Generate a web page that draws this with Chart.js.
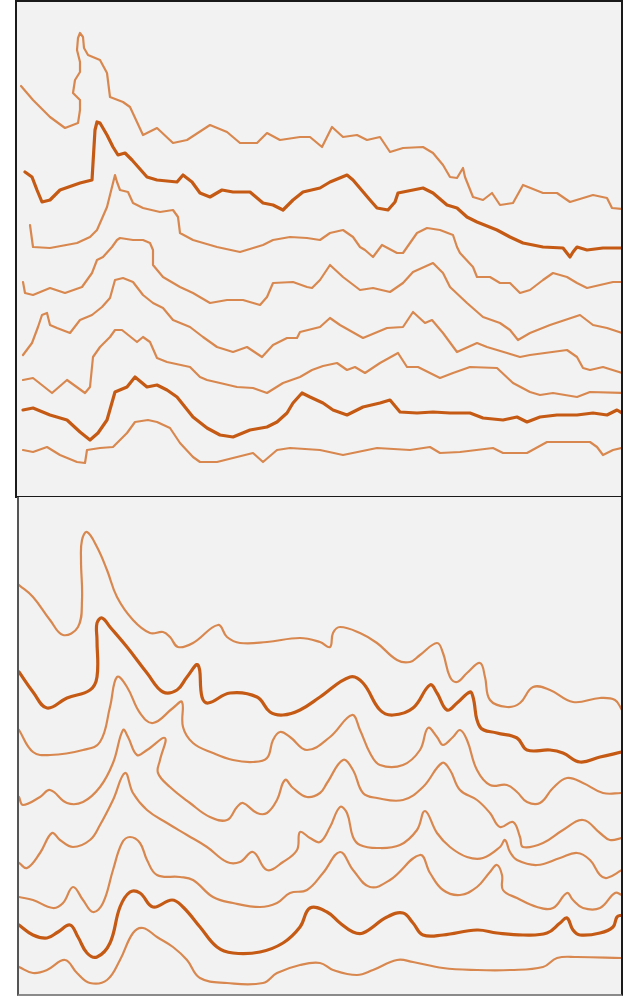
<!DOCTYPE html>
<html>
<head>
<meta charset="utf-8">
<script src="https://cdn.jsdelivr.net/npm/chart.js@4.4.1/dist/chart.umd.min.js"></script>
<style>
    html, body { margin: 0; padding: 0; background: #ffffff; }
    body { width: 631px; height: 996px; position: relative; overflow: hidden; }
    .panel { position: absolute; box-sizing: border-box; background: #f2f2f2; }
    #topPanel { left: 15px; top: 0px; width: 608px; height: 498px; border: 2px solid #1a1a1a; }
    #bottomPanel { left: 17px; top: 497px; width: 606px; height: 499px;
        border-left: 2px solid #555555; border-right: 2px solid #1a1a1a; border-bottom: 2px solid #8a8a8a; }
    .plot { position: relative; width: 100%; height: 100%; }
</style>
</head>
<body>
<div class="panel" id="topPanel"><div class="plot"><canvas id="topChart"></canvas></div></div>
<div class="panel" id="bottomPanel"><div class="plot"><canvas id="bottomChart"></canvas></div></div>
<script>
"use strict";

var topLine1 = [[21,86],[33,100],[50,117],[65,128],[78,123],[80,110],[80,100],[73,93],[75,80],[80,72],[80,62],[77,50],[78,38],[80,33],[83,37],[84,48],[88,55],[100,60],[107,73],[110,97],[123,102],[130,107],[143,135],[157,128],[173,143],[187,140],[210,125],[227,132],[240,143],[257,143],[267,133],[280,140],[300,137],[310,137],[322,147],[332,127],[343,137],[357,135],[367,140],[380,137],[390,152],[403,148],[423,147],[433,153],[443,165],[450,177],[457,178],[463,168],[465,177],[473,197],[483,200],[492,193],[500,205],[513,203],[523,185],[543,193],[557,193],[570,202],[593,195],[607,198],[612,208],[622,209]];
var topLine2 = [[25,172],[32,177],[37,190],[42,202],[50,200],[60,190],[80,183],[92,180],[95,130],[97,122],[100,123],[107,135],[113,147],[118,155],[125,153],[132,160],[147,177],[157,180],[177,182],[183,175],[192,182],[200,193],[210,197],[222,190],[233,192],[250,192],[263,203],[273,205],[283,210],[293,200],[303,192],[320,188],[330,182],[347,175],[353,180],[370,200],[377,208],[388,210],[395,202],[398,193],[413,190],[423,188],[433,193],[447,205],[457,208],[467,217],[477,222],[497,230],[510,237],[523,243],[543,247],[563,248],[570,257],[573,252],[577,247],[587,250],[603,248],[622,248]];
var topLine3 = [[30,225],[33,247],[50,248],[77,243],[90,237],[97,230],[107,207],[112,187],[115,175],[117,182],[120,190],[128,192],[133,203],[143,208],[160,212],[173,210],[178,217],[180,233],[193,240],[217,247],[240,252],[263,245],[273,240],[290,237],[307,238],[320,240],[330,233],[343,230],[353,237],[360,247],[365,250],[373,257],[382,245],[397,253],[403,253],[410,243],[417,233],[427,228],[440,230],[453,235],[457,247],[460,253],[473,267],[477,277],[490,277],[500,283],[510,283],[520,293],[530,290],[543,280],[553,273],[567,277],[577,283],[587,288],[600,285],[613,282],[622,282]];
var topLine4 = [[23,282],[25,293],[33,295],[50,288],[65,293],[82,287],[92,273],[97,260],[103,257],[112,247],[117,240],[120,238],[133,240],[143,240],[150,243],[153,250],[153,265],[163,277],[180,287],[193,293],[210,303],[227,300],[243,300],[260,305],[267,297],[273,283],[293,282],[307,287],[312,288],[320,280],[330,265],[343,277],[360,290],[373,288],[390,292],[403,283],[413,272],[433,263],[443,273],[450,287],[467,303],[483,317],[500,323],[510,330],[518,340],[530,333],[550,325],[580,315],[593,325],[607,328],[622,333]];
var topLine5 = [[23,355],[32,343],[38,327],[42,315],[47,313],[50,325],[57,328],[70,333],[80,320],[92,315],[102,307],[110,298],[115,280],[123,278],[133,282],[143,295],[153,303],[163,308],[173,320],[190,327],[203,337],[217,347],[233,352],[247,347],[262,357],[273,345],[287,338],[297,338],[300,332],[320,327],[330,318],[340,325],[363,338],[387,328],[403,327],[413,312],[425,323],[432,320],[443,333],[457,352],[477,343],[487,347],[507,353],[520,357],[530,355],[567,350],[577,357],[583,368],[590,370],[603,367],[622,373]];
var topLine6 = [[23,380],[33,378],[52,393],[67,380],[85,393],[90,387],[93,357],[100,347],[110,337],[115,330],[122,330],[137,342],[143,337],[150,342],[157,358],[167,362],[190,367],[200,377],[207,380],[220,383],[237,387],[253,388],[267,393],[283,383],[300,377],[312,370],[323,366],[337,363],[347,370],[355,367],[365,373],[380,363],[398,353],[407,367],[418,367],[430,373],[440,378],[453,373],[470,367],[497,368],[513,383],[530,392],[540,395],[553,393],[577,397],[590,392],[622,393]];
var topLine7 = [[23,410],[33,408],[50,415],[67,420],[80,432],[90,440],[98,433],[107,420],[115,392],[127,387],[135,377],[147,387],[157,385],[167,390],[177,397],[193,417],[207,428],[220,435],[233,437],[250,430],[267,427],[277,422],[287,413],[293,403],[302,393],[310,397],[323,403],[333,410],[347,415],[363,407],[380,403],[390,400],[400,412],[417,413],[433,412],[450,413],[470,413],[483,418],[503,420],[517,417],[527,422],[540,417],[557,415],[577,415],[593,413],[607,415],[617,410],[622,413]];
var topLine8 = [[23,450],[33,452],[47,447],[60,455],[77,462],[85,463],[87,450],[100,448],[113,447],[127,433],[135,422],[148,420],[157,422],[170,428],[180,443],[193,457],[200,462],[217,462],[233,458],[253,453],[263,462],[277,450],[290,448],[320,450],[343,455],[377,448],[410,450],[430,447],[440,453],[460,452],[493,448],[503,453],[527,453],[547,442],[590,442],[597,447],[603,455],[613,450],[622,448]];

var bottomLine1 = [[19,585],[33,597],[50,620],[63,635],[78,627],[82,600],[81,560],[82,540],[87,532],[97,547],[107,570],[117,597],[133,620],[150,633],[163,632],[170,637],[178,647],[193,643],[218,625],[227,637],[240,643],[267,642],[300,638],[320,642],[330,647],[333,633],[340,627],[360,633],[377,643],[397,660],[410,662],[420,655],[437,643],[443,653],[450,677],[457,682],[467,673],[480,663],[485,677],[490,700],[507,707],[520,703],[533,687],[550,690],[573,702],[600,698],[615,700],[622,710]];
var bottomLine2 = [[19,672],[33,692],[47,708],[67,698],[90,690],[97,677],[97,640],[97,623],[102,618],[110,627],[127,647],[147,673],[163,692],[177,690],[187,677],[198,665],[202,697],[208,703],[230,693],[257,697],[270,712],[283,715],[300,710],[320,697],[350,677],[363,683],[380,710],[393,715],[413,708],[430,685],[437,693],[447,710],[457,703],[470,692],[473,697],[480,727],[497,733],[517,738],[527,750],[550,750],[563,753],[580,762],[600,757],[622,752]];
var bottomLine3 = [[19,730],[33,752],[50,755],[83,750],[100,742],[110,707],[117,677],[127,687],[140,713],[153,723],[173,708],[182,702],[183,727],[193,743],[213,753],[233,760],[253,762],[267,758],[273,740],[280,732],[290,737],[307,750],[330,737],[352,715],[360,730],[370,753],[380,765],[403,765],[420,750],[428,728],[437,737],[443,745],[453,737],[460,730],[467,740],[477,770],[490,785],[507,785],[517,792],[527,802],[540,803],[553,788],[567,778],[583,783],[603,793],[622,793]];
var bottomLine4 = [[19,797],[23,805],[40,797],[50,790],[67,803],[83,802],[100,787],[113,763],[123,730],[128,737],[137,755],[147,750],[165,738],[160,760],[158,773],[170,787],[190,803],[210,817],[227,820],[237,807],[243,803],[257,813],[267,813],[277,800],[285,780],[293,788],[307,797],[320,793],[327,783],[343,760],[353,770],[363,793],[377,798],[403,800],[423,787],[442,763],[450,770],[460,790],[477,800],[490,813],[500,827],[513,822],[520,837],[523,847],[543,843],[563,830],[583,820],[600,833],[610,840],[622,838]];
var bottomLine5 = [[19,863],[27,868],[40,853],[52,833],[60,840],[73,847],[90,840],[100,825],[113,800],[125,773],[133,793],[147,810],[167,823],[187,835],[207,847],[227,862],[240,862],[253,852],[267,870],[283,862],[297,850],[300,832],[310,838],[320,842],[330,827],[340,807],[347,813],[353,837],[360,845],[377,848],[400,845],[417,830],[425,811],[437,833],[450,847],[467,857],[483,858],[500,847],[505,840],[510,852],[517,860],[537,865],[560,858],[577,853],[590,860],[600,875],[607,878],[622,870]];
var bottomLine6 = [[19,897],[33,900],[53,908],[63,903],[73,887],[83,900],[93,912],[103,903],[113,870],[122,843],[130,837],[140,843],[147,860],[157,875],[180,877],[193,880],[213,897],[233,903],[260,907],[277,903],[290,893],[307,890],[323,873],[340,852],[353,870],[370,887],[390,880],[420,855],[430,873],[443,890],[460,895],[477,887],[490,872],[497,865],[502,875],[503,890],[517,898],[537,907],[553,908],[567,893],[573,900],[583,908],[600,908],[615,893],[622,895]];
var bottomLine7 = [[19,925],[33,935],[47,938],[58,932],[70,925],[78,937],[87,953],[97,957],[110,943],[120,907],[130,892],[140,893],[153,907],[172,900],[183,907],[200,927],[217,947],[233,953],[260,952],[283,943],[300,927],[310,908],[327,912],[340,923],[353,932],[363,933],[387,917],[403,913],[413,923],[423,935],[443,935],[477,930],[497,933],[523,935],[547,933],[560,923],[567,918],[573,930],[580,935],[600,933],[613,927],[617,917],[622,915]];
var bottomLine8 = [[19,967],[33,973],[47,970],[65,960],[77,973],[90,983],[107,980],[120,960],[133,933],[143,928],[157,937],[173,947],[187,960],[200,978],[227,983],[263,983],[277,973],[300,965],[320,963],[333,970],[357,975],[373,970],[397,960],[413,962],[443,968],[477,970],[510,970],[543,967],[557,958],[577,957],[622,958]];

var topLines = [topLine1, topLine2, topLine3, topLine4, topLine5, topLine6, topLine7, topLine8];
var bottomLines = [bottomLine1, bottomLine2, bottomLine3, bottomLine4, bottomLine5, bottomLine6, bottomLine7, bottomLine8];
var heavyLines = [1, 6]; // second and seventh trace are drawn thicker

var thinColor = "#d8884f";
var heavyColor = "#c55a15";

function buildDatasets(lines) {
    return lines.map(function (pairs, i) {
        var heavy = heavyLines.indexOf(i) !== -1;
        return {
            data: pairs.map(function (p) { return { x: p[0], y: p[1] }; }),
            borderColor: heavy ? heavyColor : thinColor,
            borderWidth: heavy ? 3.2 : 2.2,
            pointRadius: 0,
            fill: false
        };
    });
}

function makeChart(id, lines, xRange, yRange, tension) {
    var ctx = document.getElementById(id).getContext("2d");
    return new Chart(ctx, {
        type: "line",
        data: { datasets: buildDatasets(lines) },
        options: {
            responsive: true,
            maintainAspectRatio: false,
            animation: false,
            layout: { padding: 0 },
            elements: { line: { tension: tension, borderCapStyle: "round", borderJoinStyle: "round" } },
            plugins: { legend: { display: false }, tooltip: { enabled: false } },
            scales: {
                x: { type: "linear", min: xRange[0], max: xRange[1], display: false },
                y: { type: "linear", min: yRange[0], max: yRange[1], reverse: true, display: false }
            }
        }
    });
}

makeChart("topChart", topLines, [17, 621], [2, 496], 0);
makeChart("bottomChart", bottomLines, [19, 621], [497, 994], 0.4);
</script>
</body>
</html>
